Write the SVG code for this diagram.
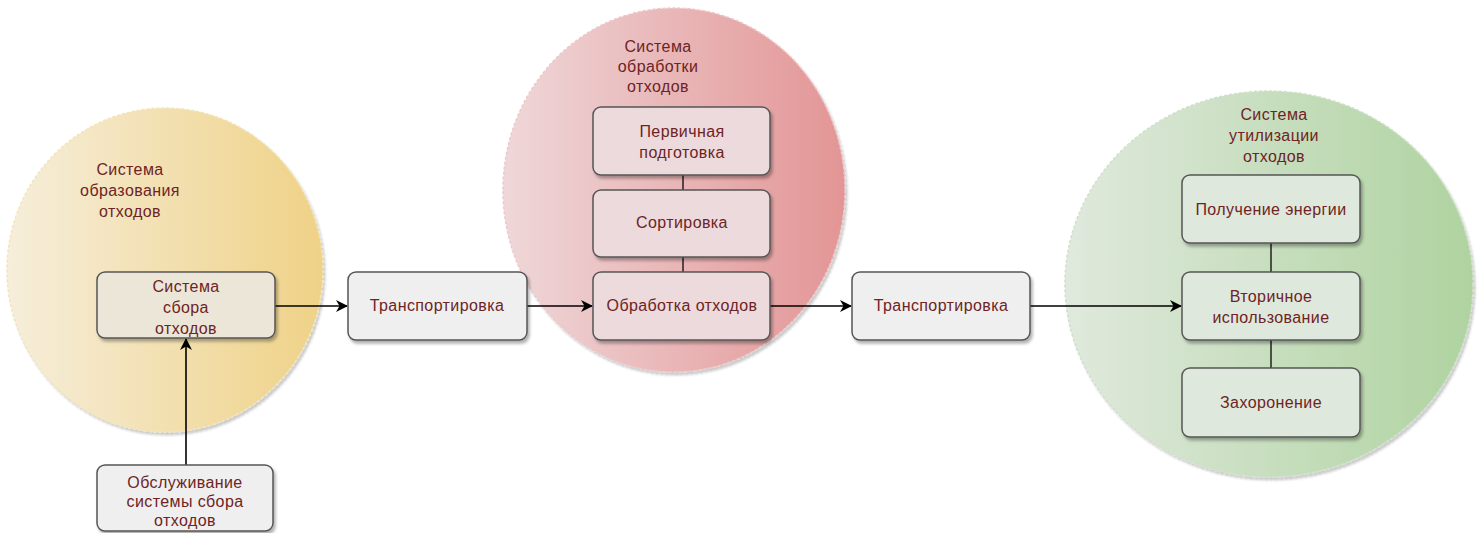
<svg xmlns="http://www.w3.org/2000/svg" width="1480" height="533" viewBox="0 0 1480 533">
<defs>
<linearGradient id="gY" x1="0" y1="0" x2="1" y2="0"><stop offset="0" stop-color="#f6eedb"/><stop offset="1" stop-color="#efd287"/></linearGradient>
<linearGradient id="gR" x1="0" y1="0" x2="1" y2="0"><stop offset="0" stop-color="#efd7d9"/><stop offset="1" stop-color="#e39595"/></linearGradient>
<linearGradient id="gG" x1="0" y1="0" x2="1" y2="0"><stop offset="0" stop-color="#e0e9dd"/><stop offset="1" stop-color="#afd3a0"/></linearGradient>
<filter id="sh" x="-10%" y="-10%" width="125%" height="130%"><feDropShadow dx="2" dy="3" stdDeviation="1.5" flood-color="#000" flood-opacity="0.3"/></filter>
<filter id="shc" x="-5%" y="-5%" width="112%" height="112%"><feDropShadow dx="2" dy="3" stdDeviation="1" flood-color="#000" flood-opacity="0.2"/></filter>
<marker id="arr" viewBox="0 0 12 12" refX="11" refY="6" markerWidth="12" markerHeight="12" markerUnits="userSpaceOnUse" orient="auto"><path d="M0,0 L12,6 L0,12 L3.5,6 Z" fill="#000"/></marker>
</defs>
<style>
.circ{stroke-width:1.5;stroke-dasharray:3 2;filter:url(#shc)}
.box{stroke:#555;stroke-width:1.5;filter:url(#sh)}
.t{font-family:"Liberation Sans",Arial,sans-serif;font-size:16px;letter-spacing:0.4px;fill:#6e2424;text-anchor:middle}
.ln{stroke:#000;stroke-width:1.6;fill:none}
.lk{stroke:#222;stroke-width:1.5;fill:none}
</style>
<g id="circle-formation">
<ellipse class="circ" cx="165" cy="270" rx="158" ry="162" fill="url(#gY)" stroke="#f3e4b8"/>
<text class="t" x="130" y="175">Система</text>
<text class="t" x="130" y="196">образования</text>
<text class="t" x="130" y="217">отходов</text>
</g>
<g id="circle-processing">
<ellipse class="circ" cx="674" cy="190" rx="171" ry="182" fill="url(#gR)" stroke="#edc8ca"/>
<text class="t" x="658" y="52">Система</text>
<text class="t" x="658" y="72">обработки</text>
<text class="t" x="658" y="92">отходов</text>
</g>
<g id="circle-utilization">
<ellipse class="circ" cx="1269" cy="284" rx="204" ry="193" fill="url(#gG)" stroke="#cfe0ca"/>
<text class="t" x="1274" y="120">Система</text>
<text class="t" x="1274" y="141">утилизации</text>
<text class="t" x="1274" y="162">отходов</text>
</g>
<g id="connectors">
<line class="lk" x1="683" y1="175" x2="683" y2="190"/>
<line class="lk" x1="683" y1="257" x2="683" y2="272"/>
<line class="lk" x1="1271" y1="243" x2="1271" y2="272"/>
<line class="lk" x1="1271" y1="340" x2="1271" y2="368"/>
<line class="ln" x1="275" y1="306" x2="347" y2="306" marker-end="url(#arr)"/>
<line class="ln" x1="527" y1="306" x2="592" y2="306" marker-end="url(#arr)"/>
<line class="ln" x1="770" y1="306" x2="851" y2="306" marker-end="url(#arr)"/>
<line class="ln" x1="1030" y1="306" x2="1181" y2="306" marker-end="url(#arr)"/>
<line class="ln" x1="186" y1="465" x2="186" y2="339" marker-end="url(#arr)"/>
</g>
<g id="node-collection">
<rect class="box" x="97" y="272" width="178" height="66" rx="8" fill="#ece6d8"/>
<text class="t" x="186" y="292">Система</text>
<text class="t" x="186" y="313">сбора</text>
<text class="t" x="186" y="334">отходов</text>
</g>
<g id="node-service">
<rect class="box" x="97" y="465" width="176" height="66" rx="8" fill="#efefef"/>
<text class="t" x="185" y="488">Обслуживание</text>
<text class="t" x="185" y="507">системы сбора</text>
<text class="t" x="185" y="526">отходов</text>
</g>
<g id="node-transport1">
<rect class="box" x="348" y="272" width="179" height="68" rx="8" fill="#efefef"/>
<text class="t" x="437" y="311">Транспортировка</text>
</g>
<g id="node-primary">
<rect class="box" x="593" y="107" width="177" height="68" rx="8" fill="#ecdadc"/>
<text class="t" x="682" y="137">Первичная</text>
<text class="t" x="682" y="158">подготовка</text>
</g>
<g id="node-sorting">
<rect class="box" x="593" y="190" width="177" height="67" rx="8" fill="#ecdadc"/>
<text class="t" x="682" y="228">Сортировка</text>
</g>
<g id="node-processing">
<rect class="box" x="593" y="272" width="177" height="68" rx="8" fill="#ecdadc"/>
<text class="t" x="682" y="311">Обработка отходов</text>
</g>
<g id="node-transport2">
<rect class="box" x="852" y="272" width="178" height="68" rx="8" fill="#efefef"/>
<text class="t" x="941" y="311">Транспортировка</text>
</g>
<g id="node-energy">
<rect class="box" x="1182" y="175" width="178" height="68" rx="8" fill="#dfe8dc"/>
<text class="t" x="1271" y="215">Получение энергии</text>
</g>
<g id="node-recycling">
<rect class="box" x="1182" y="272" width="178" height="68" rx="8" fill="#dfe8dc"/>
<text class="t" x="1271" y="302">Вторичное</text>
<text class="t" x="1271" y="323">использование</text>
</g>
<g id="node-landfill">
<rect class="box" x="1182" y="368" width="178" height="69" rx="8" fill="#dfe8dc"/>
<text class="t" x="1271" y="408">Захоронение</text>
</g>
</svg>
